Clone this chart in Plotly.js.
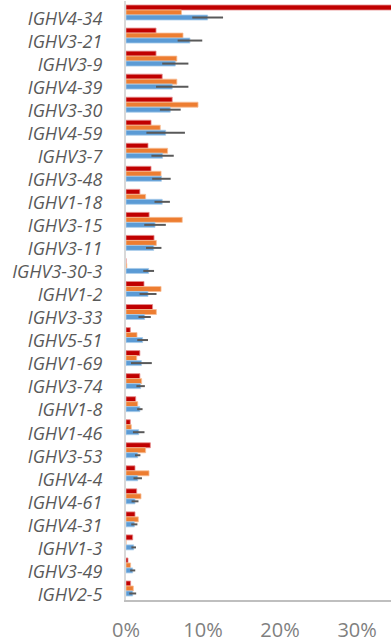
<!DOCTYPE html>
<html>
<head>
<meta charset="utf-8">
<script src="https://cdn.plot.ly/plotly-3.0.1.min.js"></script>
<style>html,body{margin:0;padding:0;background:#fff;}#chart{width:391px;height:642px;}</style>
</head>
<body>
<div id="chart"></div>
<script>
const genes = ["IGHV4-34","IGHV3-21","IGHV3-9","IGHV4-39","IGHV3-30","IGHV4-59","IGHV3-7","IGHV3-48","IGHV1-18","IGHV3-15","IGHV3-11","IGHV3-30-3","IGHV1-2","IGHV3-33","IGHV5-51","IGHV1-69","IGHV3-74","IGHV1-8","IGHV1-46","IGHV3-53","IGHV4-4","IGHV4-61","IGHV4-31","IGHV1-3","IGHV3-49","IGHV2-5"];
const redVals = [36, 3.9, 3.9, 4.7, 6.0, 3.25, 2.86, 3.25, 1.8, 3.0, 3.64, 0, 2.34, 3.45, 0.56, 1.8, 1.8, 1.26, 0.56, 3.16, 1.17, 1.39, 1.17, 0.87, 0.26, 0.6];
const orangeVals = [7.2, 7.4, 6.6, 6.6, 9.35, 4.45, 5.4, 4.55, 2.55, 7.3, 3.94, 0.1, 4.55, 3.94, 1.43, 1.39, 2.03, 1.52, 0.69, 2.55, 2.99, 1.95, 1.6, 0, 0.6, 0.95];
const blueVals = [10.6, 8.3, 6.4, 6.0, 5.75, 5.15, 4.75, 4.6, 4.7, 3.77, 3.6, 2.94, 2.86, 2.42, 2.16, 2.0, 1.9, 1.8, 1.65, 1.52, 1.52, 1.17, 1.08, 1.0, 0.87, 0.87];
const blueErr = [2.0, 1.6, 1.7, 2.1, 1.35, 2.5, 1.45, 1.2, 1.0, 1.4, 1.0, 0.7, 1.1, 0.8, 0.7, 1.35, 0.55, 0.35, 0.75, 0.35, 0.55, 0.45, 0.4, 0.3, 0.33, 0.45];
const xTicks = [0, 10, 20, 30];
const xTickText = ["0%", "10%", "20%", "30%"];

const traces = [
  {type:'bar', orientation:'h', y:genes, x:redVals, name:'red',
   marker:{color:'#C00000', line:{color:'rgba(230,140,140,0.8)', width:1}}},
  {type:'bar', orientation:'h', y:genes, x:orangeVals, name:'orange',
   marker:{color:'#ED7D31', line:{color:'rgba(248,190,150,0.8)', width:1}}},
  {type:'bar', orientation:'h', y:genes, x:blueVals, name:'blue',
   marker:{color:'#5B9BD5', line:{color:'rgba(170,205,235,0.8)', width:1}},
   error_x:{type:'data', array:blueErr, visible:true, color:'#595959', thickness:2, width:0}}
];

const layout = {
  width:391, height:642,
  margin:{l:126, r:0, t:1, b:42, pad:0},
  paper_bgcolor:'#ffffff', plot_bgcolor:'#ffffff',
  barmode:'group', bargap:0.35, bargroupgap:0,
  showlegend:false,
  font:{family:'Open Sans, sans-serif', color:'#595959'},
  xaxis:{range:[0, 34.4], tickvals:xTicks, ticktext:xTickText, showgrid:false, zeroline:false,
         showline:true, linecolor:'#bfbfbf', linewidth:2,
         ticks:'outside', ticklen:11, tickcolor:'rgba(0,0,0,0)',
         tickfont:{size:20, color:'#7f7f7f', family:'Open Sans, sans-serif'}, fixedrange:true},
  yaxis:{autorange:'reversed', type:'category', showgrid:false, zeroline:false,
         showline:true, linecolor:'#d9d9d9', linewidth:2,
         ticks:'outside', ticklen:18, tickcolor:'rgba(0,0,0,0)', ticklabelshift:-6,
         tickfont:{size:18, color:'#595959', family:'Open Sans, sans-serif', style:'italic'}, fixedrange:true}
};

Plotly.newPlot('chart', traces, layout, {displayModeBar:false, staticPlot:true});
</script>
</body>
</html>
